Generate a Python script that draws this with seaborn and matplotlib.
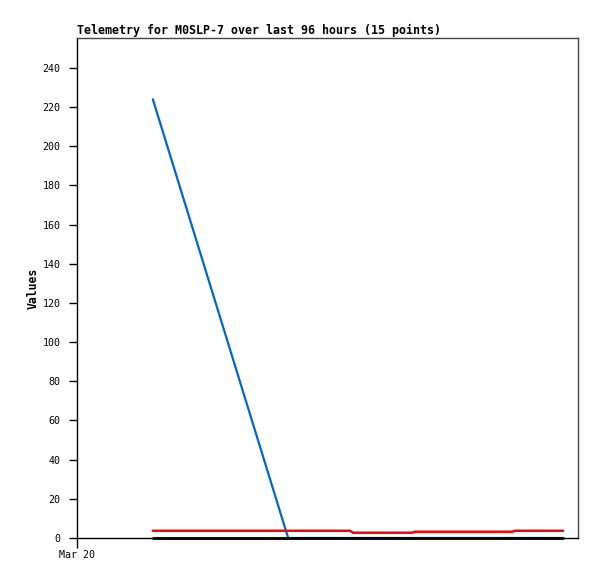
import matplotlib
matplotlib.use("Agg")
import matplotlib.pyplot as plt
import matplotlib.dates as mdates
import seaborn as sns
import pandas as pd

times = ["2024-03-20 03:38", "2024-03-20 10:07", "2024-03-20 11:10", "2024-03-20 12:07",
         "2024-03-20 13:05", "2024-03-20 13:13", "2024-03-20 14:16", "2024-03-20 15:14",
         "2024-03-20 16:03", "2024-03-20 16:11", "2024-03-20 17:38", "2024-03-20 19:18",
         "2024-03-20 20:50", "2024-03-20 20:59", "2024-03-20 23:17"]
series_blue = [224, 0, 0, 0, 0, 0, 0, 0, 0, 0, 0, 0, 0, 0, 0]
series_red = [3.7, 3.7, 3.7, 3.7, 3.7, 2.7, 2.7, 2.7, 2.7, 3.2, 3.2, 3.2, 3.2, 3.7, 3.7]
series_black = [0.2] * 15
title = "Telemetry for M0SLP-7 over last 96 hours (15 points)"
ylabel = "Values"
yticks = [0, 20, 40, 60, 80, 100, 120, 140, 160, 180, 200, 220, 240]

sns.set_style("white")
plt.rcParams['font.family'] = ['DejaVu Sans Mono', 'DejaVu Sans']
plt.rcParams['text.color'] = 'black'
plt.rcParams['axes.labelcolor'] = 'black'
plt.rcParams['xtick.color'] = 'black'
plt.rcParams['ytick.color'] = 'black'

t = pd.to_datetime(times)
df = pd.DataFrame({"t": t, "blue": series_blue, "red": series_red, "black": series_black})

fig = plt.figure(figsize=(5.97, 5.79), dpi=100)
ax = fig.add_axes([77/597, 1 - 538/579, (578-77)/597, (538-38)/579])

sns.lineplot(data=df, x="t", y="blue", ax=ax, color="#0066cc", linewidth=1.6)
sns.lineplot(data=df, x="t", y="red", ax=ax, color="#ff0000", linewidth=1.8)
sns.lineplot(data=df, x="t", y="black", ax=ax, color="#000000", linewidth=2.0, clip_on=False, zorder=5)

ax.set_xlim(pd.Timestamp("2024-03-20 00:00"), pd.Timestamp("2024-03-21 00:00"))
ax.set_ylim(0, 255.3)
ax.set_yticks(yticks)
ax.set_yticklabels([str(v) for v in yticks], fontsize=7.2)
ax.set_xticks([pd.Timestamp("2024-03-20 00:00")])
ax.xaxis.set_major_formatter(mdates.DateFormatter("%b %d"))
for lab in ax.get_xticklabels():
    lab.set_fontsize(7.2)
ax.tick_params(axis="y", direction="out", length=6, width=1, color="black", pad=6, left=True)
ax.tick_params(axis="x", direction="out", length=7, width=1, color="black", pad=2, bottom=True)

ax.set_xlabel("")
ax.set_ylabel(ylabel, fontsize=8.3, fontweight="bold", labelpad=2)
ax.set_title(title, loc="left", fontsize=8.37, fontweight="bold", pad=3, color="black")

for s in ["left", "bottom"]:
    ax.spines[s].set_color("black")
    ax.spines[s].set_linewidth(1)
for s in ["top", "right"]:
    ax.spines[s].set_color("#444444")
    ax.spines[s].set_linewidth(1)
ax.grid(False)

fig.savefig("out.png", dpi=100)
